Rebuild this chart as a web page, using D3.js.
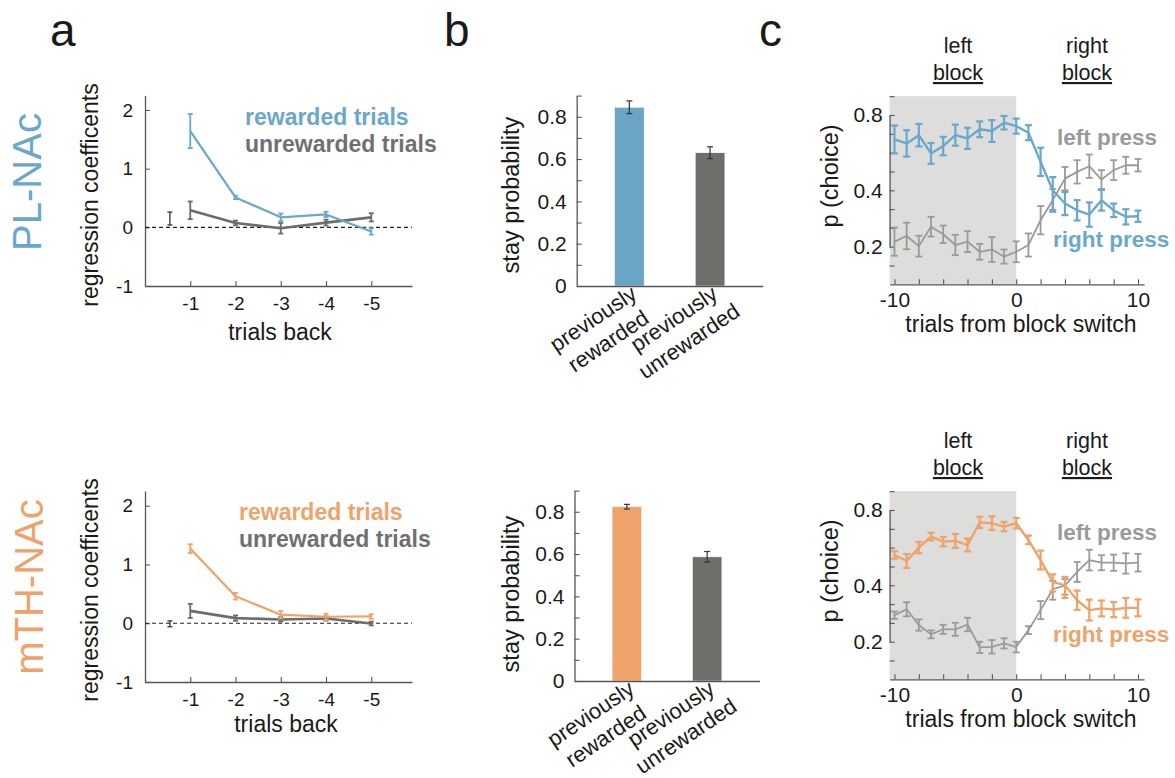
<!DOCTYPE html>
<html><head><meta charset="utf-8">
<script src="https://cdn.jsdelivr.net/npm/d3@7"></script>
<style>html,body{margin:0;padding:0;background:#fff;}svg{display:block;}</style>
</head><body>
<svg id="fig" width="1175" height="778"></svg>
<script>
// ---------------- DATA ----------------
// panel a: regression coefficients vs trials back
const aLags = [-1, -2, -3, -4, -5];
const aInterceptX = -0.55;
const aTopRewarded = [1.64, 0.51, 0.17, 0.22, -0.07];
const aTopRewardedErr = [0.29, 0.03, 0.065, 0.045, 0.055];
const aTopUnrewarded = [0.29, 0.074, -0.017, 0.08, 0.17];
const aTopUnrewardedErr = [0.15, 0.04, 0.09, 0.05, 0.07];
const aTopIntercept = 0.15, aTopInterceptErr = 0.11;
const aBotRewarded = [1.27, 0.46, 0.145, 0.11, 0.115];
const aBotRewardedErr = [0.075, 0.058, 0.064, 0.052, 0.038];
const aBotUnrewarded = [0.21, 0.087, 0.064, 0.08, -0.005];
const aBotUnrewardedErr = [0.12, 0.046, 0.038, 0.035, 0.032];
const aBotIntercept = -0.01, aBotInterceptErr = 0.05;
const aYTicks = [-1, 0, 1, 2];
const aLegend = ["rewarded trials", "unrewarded trials"];

// panel b: stay probability
const bCategories = ["previously rewarded", "previously unrewarded"];
const bCategoryLines = [["previously", "rewarded"], ["previously", "unrewarded"]];
const bTop = [0.845, 0.63];
const bTopErr = [0.03, 0.028];
const bBot = [0.824, 0.587];
const bBotErr = [0.011, 0.025];
const bYTicks = [0, 0.2, 0.4, 0.6, 0.8];
const bYMinor = [0, 0.1, 0.2, 0.3, 0.4, 0.5, 0.6, 0.7, 0.8, 0.9];

// panel c: p(choice) around block switch
const cTrials = [-10,-9,-8,-7,-6,-5,-4,-3,-2,-1,0,1,2,3,4,5,6,7,8,9,10];
const cTopRight = [0.67,0.649,0.693,0.596,0.635,0.693,0.676,0.724,0.715,0.759,0.741,0.706,0.551,0.40,0.353,0.329,0.314,0.365,0.329,0.306,0.308];
const cTopRightErr = [0.074,0.07,0.06,0.055,0.049,0.056,0.056,0.042,0.058,0.036,0.04,0.04,0.075,0.07,0.041,0.036,0.043,0.037,0.024,0.027,0.02];
const cTopLeft = [0.218,0.238,0.202,0.271,0.244,0.206,0.218,0.182,0.19,0.165,0.182,0.206,0.294,0.365,0.462,0.498,0.528,0.457,0.507,0.533,0.533];
const cTopLeftErr = [0.05,0.047,0.037,0.035,0.031,0.036,0.037,0.028,0.044,0.025,0.037,0.041,0.05,0.042,0.062,0.062,0.062,0.05,0.053,0.045,0.033];
const cBotRight = [0.561,0.529,0.60,0.659,0.632,0.636,0.614,0.734,0.73,0.712,0.73,0.641,0.534,0.418,0.40,0.347,0.312,0.318,0.314,0.32,0.32];
const cBotRightErr = [0.02,0.037,0.03,0.02,0.025,0.037,0.034,0.03,0.036,0.025,0.028,0.023,0.05,0.04,0.045,0.034,0.037,0.028,0.027,0.035,0.03];
const cBotLeft = [0.294,0.315,0.259,0.226,0.244,0.244,0.261,0.18,0.182,0.194,0.181,0.241,0.312,0.386,0.40,0.471,0.534,0.52,0.52,0.516,0.52];
const cBotLeftErr = [0.013,0.025,0.02,0.014,0.016,0.023,0.024,0.02,0.024,0.018,0.019,0.014,0.032,0.037,0.033,0.053,0.055,0.04,0.043,0.054,0.047];
const cYLabelTicks = [0.2, 0.4, 0.8];
const cYMinor = [0.9, 0.8, 0.7, 0.6, 0.5, 0.4, 0.4 - 0.2/3, 0.4 - 0.4/3, 0.2, 0.2 - 0.2/3];
const cXTicks = [-10, -8, -6, -4, -2, 0, 2, 4, 6, 8, 10];
const cXLabelTicks = [-10, 0, 10];
const cLegend = ["left press", "right press"];
const cBlocks = ["left", "right"];

// ---------------- STYLE ----------------
const FONT = "'Liberation Sans', Arial, Helvetica, sans-serif";
const BLUE = "#69a8cc", ORANGE = "#eea36b";
const DARKGRAY = "#6c6c6a", LIGHTGRAY = "#9a9a9a", BARGRAY = "#6e6f6b";
const AXIS = "#555", TEXT = "#1a1a1a";
const plain = d => String(+d.toFixed(6));

const svg = d3.select("#fig");
svg.append("rect").attr("width", 1175).attr("height", 778).attr("fill", "#fff");

function styleAxis(g, fs) {
  g.selectAll("path.domain").attr("stroke", AXIS).attr("stroke-width", 1.3);
  g.selectAll(".tick line").attr("stroke", AXIS).attr("stroke-width", 1.1);
  g.selectAll(".tick text").attr("fill", TEXT).attr("font-family", FONT).attr("font-size", fs);
}

function errBars(g, xs, ys, es, x, y, color, cap, sw) {
  const grp = g.append("g");
  xs.forEach((xv, i) => {
    const cx = x(xv), y1 = y(ys[i] - es[i]), y2 = y(ys[i] + es[i]);
    grp.append("line").attr("x1", cx).attr("x2", cx).attr("y1", y1).attr("y2", y2)
      .attr("stroke", color).attr("stroke-width", sw);
    [y1, y2].forEach(yy => grp.append("line").attr("x1", cx - cap/2).attr("x2", cx + cap/2)
      .attr("y1", yy).attr("y2", yy).attr("stroke", color).attr("stroke-width", sw));
  });
}

function seriesLine(g, xs, ys, x, y, color, sw) {
  const line = d3.line().x(d => x(d[0])).y(d => y(d[1]));
  g.append("path").datum(xs.map((v, i) => [v, ys[i]])).attr("d", line)
    .attr("fill", "none").attr("stroke", color).attr("stroke-width", sw).attr("stroke-linejoin", "round");
}

function label(x, y, txt, opts = {}) {
  const t = svg.append("text").attr("x", x).attr("y", y).text(txt)
    .attr("font-family", FONT).attr("font-size", opts.size || 22)
    .attr("fill", opts.fill || TEXT).attr("text-anchor", opts.anchor || "start")
    .attr("font-weight", opts.weight || "normal");
  if (opts.rotate) t.attr("transform", `rotate(${opts.rotate},${x},${y})`);
  if (opts.underline) t.attr("text-decoration", "underline");
  return t;
}

// panel letters
label(50, 46, "a", {size: 46});
label(444, 46, "b", {size: 46});
label(759, 46, "c", {size: 46});

// ---------------- PANEL A ----------------
function panelA(cfg) {
  const g = svg.append("g");
  const x = d3.scaleLinear().domain([0, -5.9]).range([145, 412]);
  const y = d3.scaleLinear().domain([-1, 2.25]).range(cfg.yRange);
  const xa = g.append("g").attr("transform", `translate(0,${cfg.yRange[0]})`)
    .call(d3.axisBottom(x).tickValues(aLags).tickSize(-5).tickSizeOuter(0).tickPadding(11).tickFormat(plain));
  styleAxis(xa, 19);
  const ya = g.append("g").attr("transform", `translate(145,0)`)
    .call(d3.axisLeft(y).tickValues(aYTicks).tickSize(-5).tickSizeOuter(0).tickPadding(12).tickFormat(plain));
  styleAxis(ya, 19);
  // zero line
  g.append("line").attr("x1", 145).attr("x2", 412).attr("y1", y(0)).attr("y2", y(0))
    .attr("stroke", "#222").attr("stroke-width", 1.2).attr("stroke-dasharray", "4,3");
  // intercept
  errBars(g, [aInterceptX], [cfg.intercept], [cfg.interceptErr], x, y, "#333", 5, 1.3);
  // unrewarded
  seriesLine(g, aLags, cfg.unrew, x, y, DARKGRAY, 2.6);
  errBars(g, aLags, cfg.unrew, cfg.unrewErr, x, y, DARKGRAY, 5, 1.8);
  // rewarded
  seriesLine(g, aLags, cfg.rew, x, y, cfg.color, 2.2);
  errBars(g, aLags, cfg.rew, cfg.rewErr, x, y, cfg.color, 5, 1.8);
  // labels
  label(cfg.nameX, cfg.nameY, cfg.name, {size: 40, fill: cfg.color, anchor: "middle", rotate: -90});
  label(98, cfg.ylabY, "regression coefficents", {size: 23, anchor: "middle", rotate: -90});
  label(cfg.xlabX, cfg.xlabY, "trials back", {size: 23, anchor: "middle"});
  label(cfg.legX, cfg.legY, aLegend[0], {size: 23, weight: "bold", fill: cfg.color});
  label(cfg.legX, cfg.legY + 27, aLegend[1], {size: 23, weight: "bold", fill: "#707070"});
}

panelA({yRange: [286, 95.3], rew: aTopRewarded, rewErr: aTopRewardedErr, unrew: aTopUnrewarded,
  unrewErr: aTopUnrewardedErr, intercept: aTopIntercept, interceptErr: aTopInterceptErr,
  color: BLUE, name: "PL-NAc", nameX: 41, nameY: 182, ylabY: 195, xlabX: 280, xlabY: 340, legX: 245, legY: 125});
panelA({yRange: [682, 491], rew: aBotRewarded, rewErr: aBotRewardedErr, unrew: aBotUnrewarded,
  unrewErr: aBotUnrewardedErr, intercept: aBotIntercept, interceptErr: aBotInterceptErr,
  color: ORANGE, name: "mTH-NAc", nameX: 43, nameY: 587, ylabY: 590, xlabX: 286, xlabY: 732, legX: 239, legY: 520});

// ---------------- PANEL B ----------------
function panelB(cfg) {
  const g = svg.append("g");
  const x = d3.scaleBand().domain(bCategories).range(cfg.xRange).paddingInner(0.632).paddingOuter(0.468);
  const y = d3.scaleLinear().domain([0, 0.9]).range(cfg.yRange);
  const ya = g.append("g").attr("transform", `translate(${cfg.xRange[0]},0)`)
    .call(d3.axisLeft(y).tickValues(bYMinor).tickSize(-5).tickSizeOuter(0).tickPadding(10)
      .tickFormat(d => bYTicks.some(t => Math.abs(t - d) < 1e-9) ? (d === 0 ? "0" : d3.format(".1f")(d)) : ""));
  styleAxis(ya, 21);
  // bars
  g.selectAll("rect.bar").data(bCategories).enter().append("rect")
    .attr("x", d => x(d)).attr("width", x.bandwidth())
    .attr("y", (d, i) => y(cfg.vals[i])).attr("height", (d, i) => y(0) - y(cfg.vals[i]))
    .attr("fill", (d, i) => i === 0 ? cfg.color : BARGRAY)
    .attr("stroke", "#fff").attr("stroke-width", 0.6);
  const xa = g.append("g").attr("transform", `translate(0,${cfg.yRange[0]})`)
    .call(d3.axisBottom(x).tickSize(0).tickSizeOuter(0).tickFormat(""));
  styleAxis(xa, 21);
  // error bars
  const xc = d => x(d) + x.bandwidth() / 2;
  bCategories.forEach((c, i) => {
    const cx = xc(c), y1 = y(cfg.vals[i] - cfg.errs[i]), y2 = y(cfg.vals[i] + cfg.errs[i]);
    g.append("line").attr("x1", cx).attr("x2", cx).attr("y1", y1).attr("y2", y2).attr("stroke", "#333").attr("stroke-width", 1.2);
    [y1, y2].forEach(yy => g.append("line").attr("x1", cx - 3).attr("x2", cx + 3).attr("y1", yy).attr("y2", yy).attr("stroke", "#333").attr("stroke-width", 1.2));
    // rotated category labels
    const lx = cx - 32, ly = cfg.yRange[0] + 39;
    const t = svg.append("text").attr("transform", `translate(${lx},${ly}) rotate(-34)`)
      .attr("font-family", FONT).attr("font-size", 22).attr("fill", TEXT).attr("text-anchor", "middle");
    bCategoryLines[i].forEach((ln, j) => t.append("tspan").attr("x", 0).attr("y", j * 27).text(ln));
  });
  label(519, cfg.ylabY, "stay probability", {size: 23.5, anchor: "middle", rotate: -90});
}
panelB({xRange: [576.7, 762.7], yRange: [286, 95.6], vals: bTop, errs: bTopErr, color: "#6aa5c5", ylabY: 195});
panelB({xRange: [574.5, 759.5], yRange: [681, 490.6], vals: bBot, errs: bBotErr, color: "#eea36b", ylabY: 594});

// ---------------- PANEL C ----------------
function panelC(cfg) {
  const g = svg.append("g");
  const off = cfg.off;
  const x = d3.scaleLinear().domain([-10.4, 10.5]).range([889.6, 1144.1]);
  const y = d3.scaleLinear().domain([0.2, 0.4, 0.8]).range([246.7 + off, 190.3 + off, 115 + off]);
  const y0 = y(0.2 - 0.4/3), yTop = y(0.9);
  // shaded left block
  g.append("rect").attr("x", x(-10.4)).attr("y", yTop).attr("width", x(0) - x(-10.4)).attr("height", y0 - yTop)
    .attr("fill", "#dddedb");
  const xa = g.append("g").attr("transform", `translate(0,${y0})`)
    .call(d3.axisBottom(x).tickValues(cXTicks).tickSize(-5).tickSizeOuter(0).tickPadding(8)
      .tickFormat(d => cXLabelTicks.includes(d) ? plain(d) : ""));
  styleAxis(xa, 21);
  const ya = g.append("g").attr("transform", `translate(${x(-10.4)},0)`)
    .call(d3.axisLeft(y).tickValues(cYMinor).tickSize(-5).tickSizeOuter(0).tickPadding(7)
      .tickFormat(d => cYLabelTicks.some(t => Math.abs(t - d) < 1e-9) ? d3.format(".1f")(d) : ""));
  styleAxis(ya, 21);
  // left press (gray)
  seriesLine(g, cTrials, cfg.left, x, y, LIGHTGRAY, 1.8);
  errBars(g, cTrials, cfg.left, cfg.leftErr, x, y, LIGHTGRAY, 7, 1.8);
  // right press (colored)
  seriesLine(g, cTrials, cfg.right, x, y, cfg.color, 2.4);
  errBars(g, cTrials, cfg.right, cfg.rightErr, x, y, cfg.color, 7, 2.2);
  // labels
  label(838, 176 + off, "p (choice)", {size: 23.5, anchor: "middle", rotate: -90});
  label(1021, 332 + off, "trials from block switch", {size: 23, anchor: "middle"});
  label(1057, 145 + off, cLegend[0], {size: 22.5, weight: "bold", fill: LIGHTGRAY});
  label(1053, 247 + off, cLegend[1], {size: 22.5, weight: "bold", fill: cfg.color});
  label(958, 53 + off, cBlocks[0], {size: 21.5, anchor: "middle"});
  label(958, 80 + off, "block", {size: 21.5, anchor: "middle", underline: true});
  label(1087, 53 + off, cBlocks[1], {size: 21.5, anchor: "middle"});
  label(1087, 80 + off, "block", {size: 21.5, anchor: "middle", underline: true});
}
panelC({off: 0, right: cTopRight, rightErr: cTopRightErr, left: cTopLeft, leftErr: cTopLeftErr, color: BLUE});
panelC({off: 395, right: cBotRight, rightErr: cBotRightErr, left: cBotLeft, leftErr: cBotLeftErr, color: ORANGE});
</script>
</body></html>
